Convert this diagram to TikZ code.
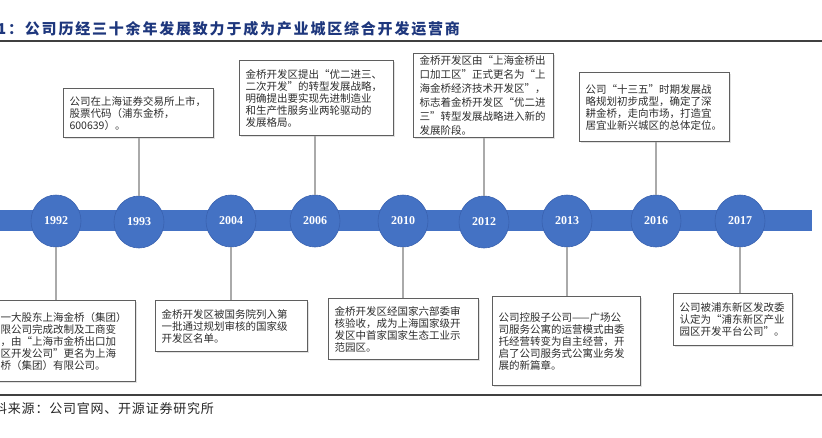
\documentclass[tikz,border=0pt]{standalone}
\usepackage{fontspec}
\setmainfont{Liberation Serif}
\newfontfamily\cjk{Noto Sans CJK SC}
\newfontfamily\cjktitle[LetterSpace=12]{Noto Sans CJK SC}
\newfontfamily\cjksrc[LetterSpace=6]{Noto Sans CJK SC}
\usetikzlibrary{shapes.geometric,shadows}
\definecolor{tlblue}{RGB}{68,114,196}
\definecolor{tledge}{RGB}{58,98,176}
\definecolor{titleblue}{RGB}{30,55,125}
\definecolor{conngray}{RGB}{170,170,170}
\definecolor{boxedge}{RGB}{95,95,95}
\definecolor{txtgray}{RGB}{45,45,45}
\tikzset{
  box/.style={draw=boxedge, line width=1.1pt, fill=white,
    drop shadow={shadow xshift=1.3pt, shadow yshift=-1.3pt, fill=black!22},
    inner xsep=6pt, inner ysep=2pt, align=left, anchor=north west,
    text=txtgray, font=\cjk\fontsize{10.5}{12}\selectfont},
  yearc/.style={ellipse, fill=tlblue, draw=tledge, line width=0.6pt,
    minimum width=50pt, minimum height=52pt, inner sep=0pt,
    text=white, font=\bfseries\fontsize{12}{12}\selectfont},
  conn/.style={draw=conngray, line width=1.4pt},
  rule/.style={draw=black!75, line width=1.3pt}
}
\begin{document}
\begin{tikzpicture}[x=1pt,y=-1pt]
\useasboundingbox (0,0) rectangle (822,437);
\clip (0,0) rectangle (822,437);
\fill[white] (0,0) rectangle (822,437);

% title
\node[anchor=west, inner sep=0pt, text=titleblue,
  font=\cjktitle\bfseries\fontsize{15}{15}\selectfont] (title) at (-3,29)
  {1：公司历经三十余年发展致力于成为产业城区综合开发运营商};
\draw[rule] (0,41) -- (822,41);

% timeline bar
\fill[tlblue] (0,210) rectangle (812,231);

% upper boxes
\node[box, text width=138pt, minimum height=49pt] (b1993) at (63,88)
  {公司在上海证券交易所上市，\\股票代码（浦东金桥，\\600639）。};
\node[box, text width=142pt, minimum height=75pt] (b2006) at (239,60)
  {金桥开发区提出“优二进三、\\二次开发”的转型发展战略，\\明确提出要实现先进制造业\\和生产性服务业两轮驱动的\\发展格局。};
\node[box, text width=128pt, minimum height=84pt,
  font=\cjk\fontsize{10.5}{14}\selectfont] (b2012) at (413,53)
  {金桥开发区由“上海金桥出\\口加工区”正式更名为“上\\海金桥经济技术开发区”，\\标志着金桥开发区“优二进\\三”转型发展战略进入新的\\发展阶段。};
\node[box, text width=138pt, minimum height=69pt] (b2016) at (579,72)
  {公司“十三五”时期发展战\\略规划初步成型，确定了深\\耕金桥，走向市场，打造宜\\居宜业新兴城区的总体定位。};

% lower boxes
\node[box, text width=129pt, minimum height=81pt] (b1992) at (-6,300)
  {一大股东上海金桥（集团）\\限公司完成改制及工商变\\，由“上海市金桥出口加\\区开发公司”更名为上海\\桥（集团）有限公司。};
\node[box, text width=140pt, minimum height=51pt] (b2004) at (155,300)
  {金桥开发区被国务院列入第\\一批通过规划审核的国家级\\开发区名单。};
\node[box, text width=138pt, minimum height=61pt] (b2010) at (328,298)
  {金桥开发区经国家六部委审\\核验收，成为上海国家级开\\发区中首家国家生态工业示\\范园区。};
\node[box, text width=136pt, minimum height=89pt] (b2013) at (492,296)
  {公司控股子公司——广场公\\司服务公寓的运营模式由委\\托经营转变为自主经营，开\\启了公司服务式公寓业务发\\展的新篇章。};
\node[box, text width=107pt, minimum height=52pt] (b2017) at (673,293)
  {公司被浦东新区发改委\\认定为“浦东新区产业\\园区开发平台公司”。};

% year circles
\node[yearc] (c1992) at (56,221) {1992};
\node[yearc] (c1993) at (139,222) {1993};
\node[yearc] (c2004) at (231,221) {2004};
\node[yearc] (c2006) at (315,221) {2006};
\node[yearc] (c2010) at (403,221) {2010};
\node[yearc] (c2012) at (484,222) {2012};
\node[yearc] (c2013) at (567,221) {2013};
\node[yearc] (c2016) at (656,221) {2016};
\node[yearc] (c2017) at (740,221) {2017};

% connectors
\draw[conn] (c1993.north) -- (c1993.north |- b1993.south);
\draw[conn] (c2006.north) -- (c2006.north |- b2006.south);
\draw[conn] (c2012.north) -- (c2012.north |- b2012.south);
\draw[conn] (c2016.north) -- (c2016.north |- b2016.south);
\draw[conn] (c1992.south) -- (c1992.south |- b1992.north);
\draw[conn] (c2004.south) -- (c2004.south |- b2004.north);
\draw[conn] (c2010.south) -- (c2010.south |- b2010.north);
\draw[conn] (c2013.south) -- (c2013.south |- b2013.north);
\draw[conn] (c2017.south) -- (c2017.south |- b2017.north);

% source
\draw[rule] (0,395) -- (822,395);
\node[anchor=west, inner sep=0pt, text=black!85,
  font=\cjksrc\fontsize{13}{13}\selectfont] (src) at (-6,409)
  {料来源：公司官网、开源证券研究所};
\end{tikzpicture}
\end{document}
